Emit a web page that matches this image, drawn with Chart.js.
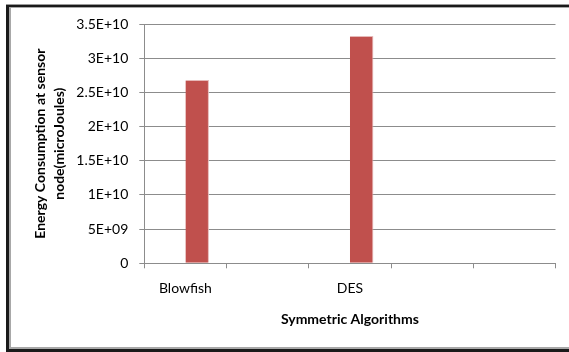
<!DOCTYPE html>
<html lang="en">
  <head>
    <meta charset="UTF-8" />
    <title>Symmetric Algorithms Energy</title>
    <script src="https://cdn.jsdelivr.net/npm/chart.js"></script>
    <style>
      html, body { margin: 0; padding: 0; background: #fff; overflow: hidden; }
      #wrap { position: relative; width: 569px; height: 352px; overflow: hidden; }
      #frame {
        position: absolute; left: 6px; top: 5px; width: 700px; height: 342px;
        border-left: 3px solid #1a1a1a; border-top: 2px solid #1a1a1a; border-bottom: 3px solid #1a1a1a;
        box-shadow: inset 2px 1px 0 #a8a8a8, inset 0 -2px 0 #a8a8a8, 0 -1px 0 #9a9a9a;
      }
      #energyChart { position: absolute; left: 0; top: 0; }
    </style>
  </head>
  <body>
    <div id="wrap">
      <div id="frame"></div>
      <canvas id="energyChart" width="569" height="352"></canvas>
    </div>

    <script>
      // data
      const categories = ["Blowfish", "", "DES", "", ""];
      const series1 = [null, null, null, null, null]; // empty first series (bars sit right of centre)
      const series2 = [2.68e10, null, 3.325e10, null, null];
      const yTickLabels = ["0", "5E+09", "1E+10", "1.5E+10", "2E+10", "2.5E+10", "3E+10", "3.5E+10"];

      const font = "Lato";
      const ctx = document.getElementById("energyChart").getContext("2d");

      new Chart(ctx, {
        type: "bar",
        data: {
          labels: categories,
          datasets: [
            { label: "Series 1", data: series1, backgroundColor: "#C0504D" },
            {
              label: "Series 2",
              data: series2,
              backgroundColor: "#C0504D",
              borderColor: "#e6b9b8",
              borderWidth: { top: 1, right: 1, left: 0, bottom: 0 },
            },
          ],
        },
        options: {
          responsive: false,
          animation: false,
          layout: { padding: { top: 24, right: 13.5, left: 0, bottom: 0 } },
          plugins: { legend: { display: false }, tooltip: { enabled: false } },
          datasets: { bar: { categoryPercentage: 0.572, barPercentage: 1 } },
          scales: {
            x: {
              grid: { offset: true, drawOnChartArea: false, tickLength: 5, color: "#8c8c8c" },
              border: { color: "#8c8c8c" },
              ticks: { color: "#000", padding: 12, font: { family: font, size: 14 } },
              title: {
                display: true,
                text: "Symmetric Algorithms",
                color: "#000",
                font: { family: font, size: 14, weight: "bold" },
                padding: { top: 0, bottom: 24 },
              },
              afterFit: (s) => { s.height = 88.7; },
            },
            y: {
              min: 0,
              max: 3.5e10,
              grid: { tickLength: 5, color: "#8c8c8c" },
              border: { color: "#8c8c8c" },
              ticks: {
                stepSize: 5e9,
                color: "#000",
                padding: 11,
                font: { family: font, size: 14 },
                callback: (v, i) => yTickLabels[i],
              },
              title: {
                display: true,
                text: ["Energy Consumption at sensor", "node(microJoules)"],
                color: "#000",
                font: { family: font, size: 14, weight: "bold", lineHeight: "19px" },
                padding: { top: 30.5, bottom: 0 },
              },
              afterFit: (s) => { s.width = 144.3; },
            },
          },
        },
      });
    </script>
  </body>
</html>
